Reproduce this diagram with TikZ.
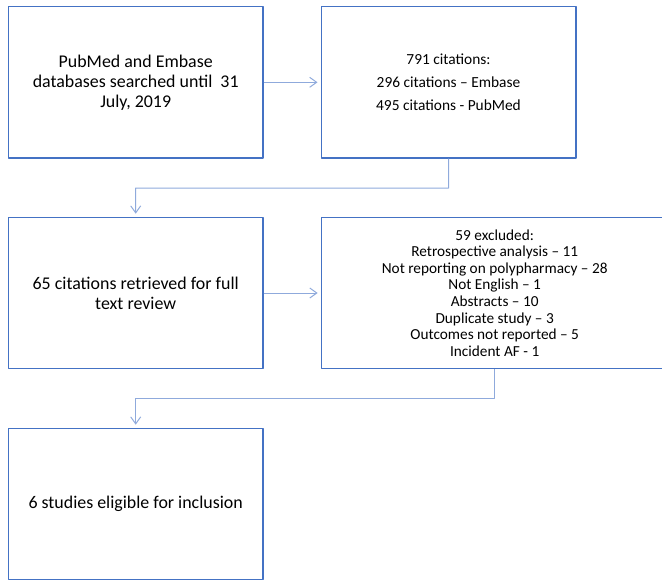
\documentclass[tikz,border=0pt]{standalone}
\usepackage{fontspec}
\setmainfont{Carlito}
\usetikzlibrary{arrows.meta}
\definecolor{boxblue}{HTML}{4472C4}
\definecolor{linkblue}{HTML}{8FAADC}
\tikzset{
  box/.style={draw=boxblue, line width=1.3pt, minimum width=254.7pt, minimum height=151.3pt,
    inner sep=0pt, align=center, font=\fontsize{17.9}{20}\selectfont},
  link/.style={draw=linkblue, line width=1pt, ->, shorten >=3pt}
}
\begin{document}
\begin{tikzpicture}[x=1pt, y=-1pt, line join=round, >={Straight Barb[length=7pt,width=10pt]}]
			\useasboundingbox (0,0) rectangle (662,579);
			\node[box] (search) at (135.7,82.3) {PubMed and Embase\\databases searched until\ \ 31\\July, 2019};
			\node[box, font=\fontsize{15.4}{23.3}\selectfont] (cites) at (448.5,82.3)
				{791 citations:\\296 citations -- Embase\\495 citations - PubMed};
			\node[box] (full) at (135.7,293) {65 citations retrieved for full\\text review};
			\node[box, minimum width=346.8pt, font=\fontsize{15.3}{16.6}\selectfont] (excl) at (494.7,293)
				{59 excluded:\\Retrospective analysis -- 11\\Not reporting on polypharmacy -- 28\\Not English -- 1\\Abstracts -- 10\\Duplicate study -- 3\\Outcomes not reported -- 5\\Incident AF - 1};
			\node[box] (incl) at (135.7,504) {6 studies eligible for inclusion};
			\coordinate (bendA) at (448.7,188);
			\coordinate (bendB) at (494.7,398.3);
			\foreach\a/\b in {search/cites, full/excl}
				\draw[link] (\a) -- (\b);
			\foreach\a/\k/\b in {cites/bendA/full, excl/bendB/incl}
				\draw[link] (\a.south) -- (\k) -| (\b.north);
		\end{tikzpicture}
\end{document}
